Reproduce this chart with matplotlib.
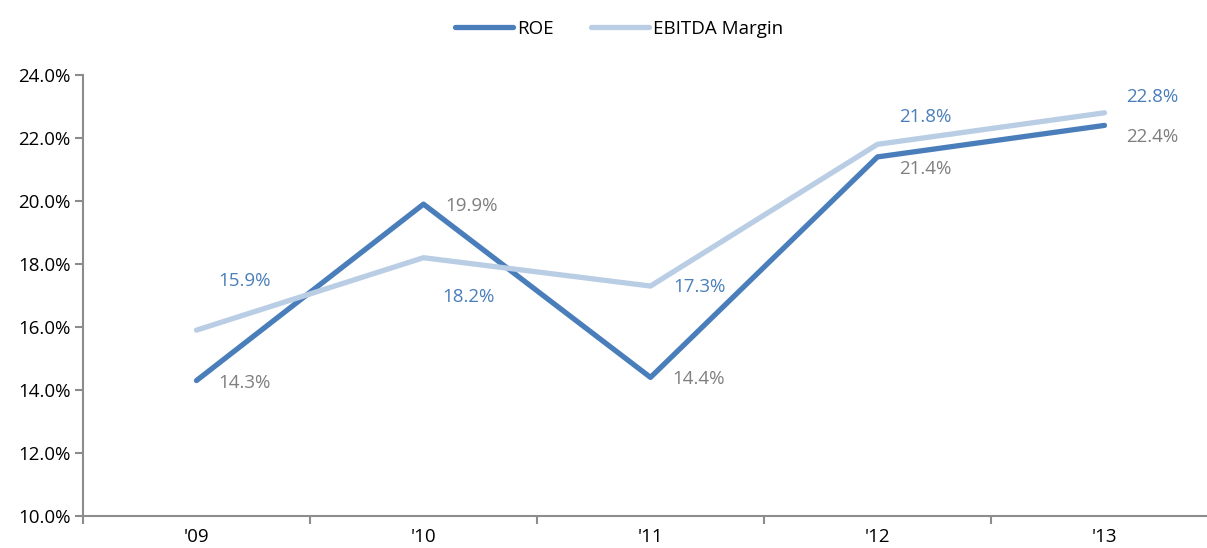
import matplotlib.pyplot as plt
import numpy as np

plt.rcParams['font.family'] = ['Open Sans', 'DejaVu Sans']

years = ["'09", "'10", "'11", "'12", "'13"]
roe = [14.3, 19.9, 14.4, 21.4, 22.4]
ebitda = [15.9, 18.2, 17.3, 21.8, 22.8]

# label offsets in pixels (dx, dy) relative to each point
roe_off = [(22, -2), (22, -2), (22, -2), (22, -12), (22, -12)]
ebitda_off = [(22, 49), (19, -39), (23, -1), (22, 27), (22, 16)]

blue = '#4a7ebb'
light = '#b9cde5'
grey = '#8c8c8c'
fs = 13.5

fig = plt.figure(figsize=(12.07, 5.48), dpi=100)
ax = fig.add_axes([83/1207, 32/548, 1135/1207, 441/548])

x = np.arange(len(years))
ax.plot(x, roe, color=blue, lw=3.8, label='ROE', solid_capstyle='round')
ax.plot(x, ebitda, color=light, lw=3.8, label='EBITDA Margin', solid_capstyle='round')

for i in range(len(x)):
    ax.annotate(f'{roe[i]:.1f}%', (x[i], roe[i]), xytext=(roe_off[i][0]*0.72, roe_off[i][1]*0.72),
                textcoords='offset points', ha='left', va='center', fontsize=fs, color='#7f7f7f')
    ax.annotate(f'{ebitda[i]:.1f}%', (x[i], ebitda[i]), xytext=(ebitda_off[i][0]*0.72, ebitda_off[i][1]*0.72),
                textcoords='offset points', ha='left', va='center', fontsize=fs, color=blue)

ax.set_xlim(-0.5, 4.5)
ax.set_ylim(10, 24)
ax.set_yticks(np.arange(10, 24.1, 2))
ax.set_yticklabels([f'{v:.1f}%' for v in np.arange(10, 24.1, 2)])
ax.set_xticks(x)
ax.set_xticklabels(years)
ax.set_xticks(np.arange(-0.5, 5, 1), minor=True)
ax.tick_params(axis='x', which='major', length=0, labelsize=fs, pad=9)
ax.tick_params(axis='x', which='minor', length=6, color=grey, width=1.5)
ax.tick_params(axis='y', length=6, color=grey, width=1.5, labelsize=fs, pad=3)

for s in ['top', 'right']:
    ax.spines[s].set_visible(False)
for s in ['left', 'bottom']:
    ax.spines[s].set_color(grey)
    ax.spines[s].set_linewidth(1.5)

fig.legend(loc='upper center', bbox_to_anchor=(0.513, 0.995), ncol=2, frameon=False,
           fontsize=fs, handlelength=3.1, handletextpad=0.2, columnspacing=2.0)

fig.savefig('out.png', dpi=100)
